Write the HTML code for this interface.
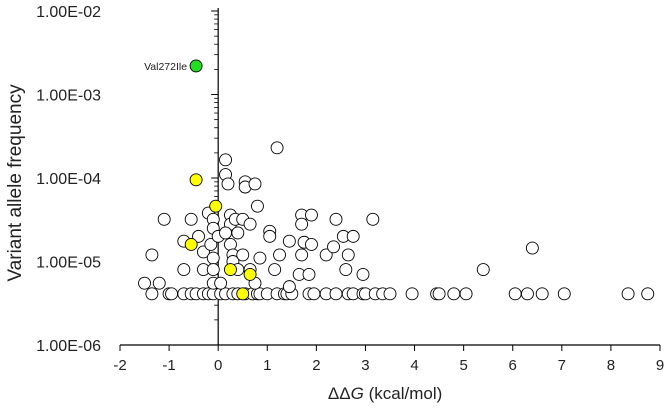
<!DOCTYPE html>
<html><head><meta charset="utf-8"><style>
html,body{margin:0;padding:0;background:#fff;}
svg{display:block;font-family:"Liberation Sans",sans-serif;}
</style></head><body>
<svg id="chart" width="667" height="409" viewBox="0 0 667 409"></svg>
<script>
const xTicks=[-2,-1,0,1,2,3,4,5,6,7,8,9];
const yTickExps=[-2,-3,-4,-5,-6];
const yTickLabels=["1.00E-02","1.00E-03","1.00E-04","1.00E-05","1.00E-06"];
const baseX=[-1.35,-1.0,-0.95,-0.7,-0.55,-0.45,-0.3,-0.2,-0.1,0.05,0.15,0.3,0.4,0.55,0.7,0.8,0.85,1.0,1.2,1.35,1.4,1.5,1.85,1.95,2.2,2.4,2.65,2.75,2.95,3.0,3.2,3.35,3.5,3.95,4.45,4.5,4.8,5.05,6.05,6.3,6.6,7.05,8.35,8.75];
const baseFreq=4.1e-6;
const otherX=[-1.5,-1.2,-1.35,-1.1,-0.55,-0.7,-0.7,-0.4,-0.3,-0.3,-0.2,-0.1,-0.1,-0.15,-0.1,-0.1,0,-0.1,0.05,0.15,0.15,0.2,0.25,0.25,0.15,0.25,0.3,0.3,0.4,0.35,0.4,0.5,0.5,0.55,0.55,0.75,0.8,0.65,0.65,0.75,0.85,1.05,1.05,1.15,1.2,1.25,1.45,1.45,1.7,1.7,1.75,1.7,1.65,1.9,1.9,1.85,2.2,2.35,2.4,2.55,2.6,2.65,2.75,2.95,3.15,5.4,6.4];
const otherFreq=[5.5e-6,5.5e-6,1.2e-5,3.2e-5,3.2e-5,1.75e-5,8e-6,2e-5,1.3e-5,8e-6,3.8e-5,3.2e-5,2.5e-5,1.6e-5,1.1e-5,8e-6,2e-5,5.5e-6,5.5e-6,1.65e-4,1.1e-4,8.5e-5,3.6e-5,2.8e-5,2.2e-5,1.6e-5,1.2e-5,1e-5,8e-6,3.2e-5,2.2e-5,3.2e-5,1.2e-5,9e-5,7.8e-5,8.5e-5,4.6e-5,2.8e-5,8e-6,5.5e-6,1.1e-5,2.3e-5,2e-5,8e-6,2.3e-4,1.2e-5,1.75e-5,5e-6,3.6e-5,2.8e-5,1.7e-5,1.2e-5,7e-6,3.6e-5,1.6e-5,7e-6,1.2e-5,1.5e-5,3.2e-5,2e-5,8e-6,1.2e-5,2e-5,7e-6,3.2e-5,8e-6,1.45e-5];
const yellowX=[-0.45,-0.05,-0.55,0.25,0.65,0.5];
const yellowFreq=[9.5e-5,4.6e-5,1.6e-5,8e-6,7e-6,4.1e-6];
const greenX=[-0.45];
const greenFreq=[2.2e-3];
const greenLabel="Val272Ile";

const NS="http://www.w3.org/2000/svg";
const svg=document.getElementById('chart');
const X0=120,X1=660,XMIN=-2,XMAX=9;
const Y0=345,Y1=11,YMIN=-6,YMAX=-2;
const sx=v=>X0+(v-XMIN)/(XMAX-XMIN)*(X1-X0);
const sy=f=>Y0-(Math.log10(f)-YMIN)/(YMAX-YMIN)*(Y0-Y1);
const syE=e=>Y0-(e-YMIN)/(YMAX-YMIN)*(Y0-Y1);
function mk(t,a){const e=document.createElementNS(NS,t);for(const k in a)e.setAttribute(k,a[k]);svg.appendChild(e);return e;}
const ax=sx(0);
let l=mk('line',{x1:X0,y1:Y0,x2:X1,y2:Y0,stroke:'#000','stroke-width':1.2});


xTicks.forEach(v=>{
 const t=mk('line',{x1:sx(v),y1:Y0,x2:sx(v),y2:Y0+6,stroke:'#000','stroke-width':1});
 
 
 const tx=mk('text',{x:sx(v),y:Y0+25,'text-anchor':'middle','font-size':15,fill:'#222'});
 tx.textContent=String(v);
 
 
});
l=mk('line',{x1:ax,y1:Y1-3,x2:ax,y2:Y0,stroke:'#000','stroke-width':1.2});


yTickExps.forEach((e,i)=>{
 const t=mk('line',{x1:ax-7,y1:syE(e),x2:ax,y2:syE(e),stroke:'#000','stroke-width':1});
 
 
 const tx=mk('text',{x:101,y:syE(e)+6,'text-anchor':'end','font-size':16,fill:'#222'});
 tx.textContent=yTickLabels[i];
 
 
 if(e>YMIN){for(let m=2;m<=9;m++){const yy=syE(e-1+Math.log10(m));
  const mt=mk('line',{x1:ax-4,y1:yy,x2:ax,y2:yy,stroke:'#000','stroke-width':0.8});
  
  }}
});
function pts(xs,fs,fill,name){xs.forEach((v,i)=>{
 const c=mk('circle',{cx:sx(v),cy:sy(fs[i]),r:6,fill:fill,stroke:'#000','stroke-width':0.9});
 
 
});}
pts(baseX,baseX.map(()=>baseFreq),'#fff','variant-point');
pts(otherX,otherFreq,'#fff','variant-point');
pts(yellowX,yellowFreq,'#ffff00','highlight-point');
pts(greenX,greenFreq,'#22dd22','val272ile-point');
const gl=mk('text',{x:sx(greenX[0])-9,y:sy(greenFreq[0])+4,'text-anchor':'end','font-size':10.5,fill:'#222'});
gl.textContent=greenLabel;


const yt=mk('text',{x:0,y:0,'text-anchor':'middle','font-size':19,fill:'#222',transform:'translate(21,183) rotate(-90)'});
yt.textContent='Variant allele frequency';


const xt=mk('text',{x:sx(3.4),y:399,'text-anchor':'middle','font-size':17,fill:'#222'});
xt.innerHTML='ΔΔ<tspan font-style="italic">G</tspan> (kcal/mol)';


</script>
</body></html>
